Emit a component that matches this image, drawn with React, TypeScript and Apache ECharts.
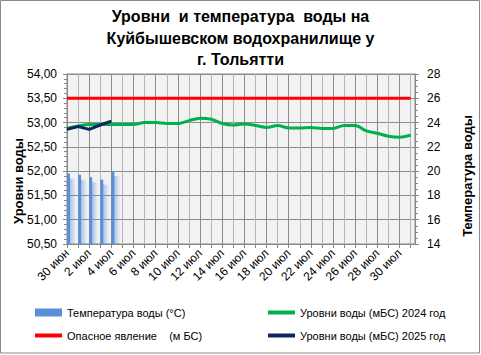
import React, { useEffect, useRef } from "react";
import * as echarts from "echarts";

const categories = [
  "30 июн", "1 июл", "2 июл", "3 июл", "4 июл", "5 июл", "6 июл", "7 июл", "8 июл",
  "9 июл", "10 июл", "11 июл", "12 июл", "13 июл", "14 июл", "15 июл", "16 июл",
  "17 июл", "18 июл", "19 июл", "20 июл", "21 июл", "22 июл", "23 июл", "24 июл",
  "25 июл", "26 июл", "27 июл", "28 июл", "29 июл", "30 июл", "31 июл",
];
const level2024 = [
  52.88, 52.93, 52.96, 52.96, 52.96, 52.96, 52.96, 53.0, 53.0, 52.98, 52.98, 53.04,
  53.09, 53.07, 52.98, 52.95, 52.97, 52.94, 52.9, 52.94, 52.89, 52.89, 52.9, 52.88,
  52.88, 52.94, 52.94, 52.83, 52.78, 52.72, 52.7, 52.74,
];
const level2025 = [52.86, 52.92, 52.86, 52.95, 53.03];
const temperature = [19.8, 19.7, 19.5, 19.3, 20.0];
const dangerLevel = 53.5;

const titleLines = ["Уровни\u00a0 и температура\u00a0 воды на", "Куйбышевском водохранилище у", "г. Тольятти"];
const names = {
  temp: "Температура воды (°С)",
  danger: "Опасное явление \u00a0\u00a0 (м БС)",
  y2024: "Уровни воды (мБС) 2024 год",
  y2025: "Уровни воды (мБС) 2025 год",
};

const FONT = "Liberation Sans, Arial, sans-serif";

export default function App() {
  const ref = useRef<HTMLDivElement>(null);
  useEffect(() => {
    if (!ref.current) return;
    const chart = echarts.init(ref.current, undefined, { renderer: "svg" });
    const blue = "#5b8fd9";
    const xMax = 31.39;
    const legendCommon = {
      orient: "horizontal",
      itemWidth: 27,
      textStyle: { fontSize: 11, color: "#000", fontFamily: FONT },
      selectedMode: false,
      itemGap: 2,
      padding: 0,
    };
    chart.setOption({
      animation: false,
      backgroundColor: "#fff",
      textStyle: { fontFamily: FONT },
      title: {
        text: titleLines.join("\n"),
        left: "center",
        top: 6,
        padding: 0,
        textStyle: { fontSize: 16, fontWeight: "bold", color: "#000", lineHeight: 21.5, fontFamily: FONT },
      },
      grid: {
        left: 67,
        top: 74,
        right: 66,
        bottom: 111,
        show: true,
        backgroundColor: "#f2f2f2",
        borderColor: "#888",
        borderWidth: 1,
      },
      legend: [
        { ...legendCommon, left: 35, top: 307, itemHeight: 8, data: [{ name: names.temp, icon: "rect" }] },
        { ...legendCommon, left: 35, top: 330, itemHeight: 4, data: [{ name: names.danger, icon: "rect" }] },
        { ...legendCommon, left: 268, top: 307, itemHeight: 4, data: [{ name: names.y2024, icon: "rect" }] },
        { ...legendCommon, left: 268, top: 330, itemHeight: 4, data: [{ name: names.y2025, icon: "rect" }] },
      ],
      xAxis: {
        type: "value",
        min: 0,
        max: xMax,
        interval: 1,
        axisLine: { show: true, lineStyle: { color: "#888" } },
        axisTick: { show: true, length: 4, lineStyle: { color: "#888" } },
        splitLine: { show: true, lineStyle: { color: ["#8c8c8c", "#b4b4b4"], width: 1 } },
        axisLabel: {
          rotate: 45,
          fontSize: 12,
          color: "#000",
          margin: 7,
          showMaxLabel: false,
          formatter: (v: number) =>
            Number.isInteger(v) && v % 2 === 0 && categories[v] ? categories[v] : "",
        },
      },
      yAxis: [
        {
          type: "value",
          min: 50.5,
          max: 54,
          interval: 0.5,
          axisLine: { show: true, lineStyle: { color: "#888" } },
          axisTick: { show: true, length: 4, lineStyle: { color: "#888" } },
          minorTick: { show: true, splitNumber: 5, length: 3, lineStyle: { color: "#888" } },
          splitLine: { show: true, lineStyle: { color: "#8c8c8c" } },
          axisLabel: {
            fontSize: 12,
            color: "#000",
            margin: 10,
            formatter: (v: number) => v.toFixed(2).replace(".", ","),
          },
        },
        {
          type: "value",
          min: 14,
          max: 28,
          interval: 2,
          position: "right",
          axisLine: { show: true, lineStyle: { color: "#888" } },
          axisTick: { show: true, length: 4, lineStyle: { color: "#888" } },
          minorTick: { show: true, splitNumber: 4, length: 3, lineStyle: { color: "#888" } },
          splitLine: { show: false },
          axisLabel: { fontSize: 12, color: "#000", margin: 12 },
        },
      ],
      graphic: [
        {
          type: "rect",
          shape: { x: 0.5, y: 0.5, width: 479, height: 352.5 },
          style: { fill: "none", stroke: "#8a8a8a", lineWidth: 1 },
          silent: true,
        },
        {
          type: "text",
          x: 18,
          y: 181,
          rotation: Math.PI / 2,
          style: {
            text: "Уровни воды",
            font: `bold 13px ${FONT}`,
            fill: "#000",
            textAlign: "center",
            textVerticalAlign: "middle",
          },
        },
        {
          type: "text",
          x: 467,
          y: 176,
          rotation: Math.PI / 2,
          style: {
            text: "Температура воды",
            font: `bold 13px ${FONT}`,
            fill: "#000",
            textAlign: "center",
            textVerticalAlign: "middle",
          },
        },
      ],
      series: [
        {
          name: names.temp,
          type: "custom",
          yAxisIndex: 1,
          itemStyle: { color: blue },
          data: temperature.map((v, i) => [i, v]),
          renderItem: (params: any, api: any) => {
            const x = api.value(0);
            const v = api.value(1);
            const top = api.coord([x, v]);
            const base = api.coord([x, 14]);
            return {
              type: "group",
              children: [
                {
                  type: "rect",
                  shape: { x: top[0] + 2, y: top[1] + 5, width: 7, height: base[1] - top[1] - 5 },
                  style: {
                    fill: new echarts.graphic.LinearGradient(0, 0, 1, 0, [
                      { offset: 0, color: "rgba(91,143,217,0.55)" },
                      { offset: 1, color: "rgba(91,143,217,0)" },
                    ]),
                  },
                },
                {
                  type: "rect",
                  shape: { x: top[0], y: top[1], width: 3, height: base[1] - top[1] },
                  style: { fill: blue },
                },
              ],
            };
          },
        },
        {
          name: names.danger,
          type: "line",
          data: categories.map((_, i) => [i, dangerLevel]),
          showSymbol: false,
          symbol: "none",
          itemStyle: { color: "#ff0000" },
          lineStyle: { color: "#ff0000", width: 3 },
        },
        {
          name: names.y2024,
          type: "line",
          data: level2024.map((v, i) => [i, v]),
          smooth: 0.3,
          showSymbol: false,
          symbol: "none",
          itemStyle: { color: "#00b050" },
          lineStyle: { color: "#00b050", width: 3 },
        },
        {
          name: names.y2025,
          type: "line",
          data: level2025.map((v, i) => [i, v]),
          showSymbol: false,
          symbol: "none",
          itemStyle: { color: "#0d2560" },
          lineStyle: { color: "#0d2560", width: 3 },
        },
      ],
    });
    return () => chart.dispose();
  }, []);
  return (
    <div
      ref={ref}
      style={{ position: "fixed", left: 0, top: 0, width: 481, height: 355 }}
    />
  );
}
